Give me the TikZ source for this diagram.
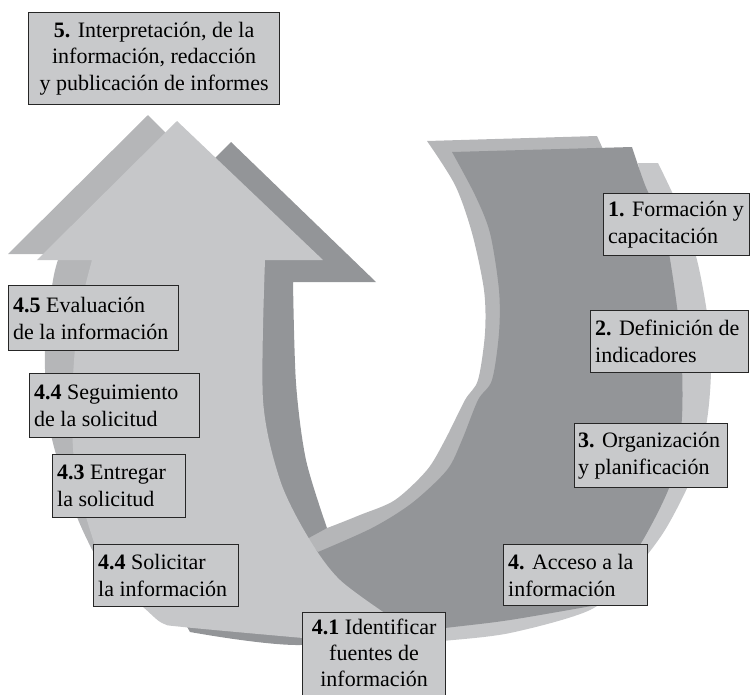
\documentclass[tikz,border=0pt]{standalone}
\usepackage{fontspec}
\setmainfont{Liberation Serif}
\definecolor{backc}{HTML}{B5B6B8}
\definecolor{darkc}{HTML}{939598}
\definecolor{lightc}{HTML}{C6C7C9}
\definecolor{boxc}{HTML}{C8C9CB}
\tikzset{
  lbox/.style={draw=black!85, line width=1.2pt, fill=boxc, inner sep=0pt, anchor=north west},
  ltext/.style={anchor=west, align=left, inner sep=0pt, font=\fontsize{22}{27}\selectfont},
  ctext/.style={anchor=center, align=center, inner sep=0pt, font=\fontsize{22}{26.5}\selectfont},
}
\begin{document}
\begin{tikzpicture}[x=1pt,y=-1pt]
\path[use as bounding box] (0,0) rectangle (750,694);
\clip (0,0) rectangle (750,694);

% back layer
\fill[backc] (148,115) -- (8,254) -- (60,254)
  -- plot[smooth] coordinates {(60,254) (53,280) (45,350) (50,430) (77,517) (110,580) (140,598) (180,615) (300,632)}
  -- plot[smooth] coordinates {(300,632) (445,615) (540,590) (600,540) (640,450) (650,350) (640,260) (615,185) (602,147)}
  -- (597,136) -- (427,141)
  -- plot[smooth] coordinates {(427,141) (455,185) (472,233) (484,290) (485,333) (478,380) (465,400) (445,440) (427,470) (395,500) (360,515) (327,528) (312,532) (300,530)}
  -- plot[smooth] coordinates {(300,530) (265,490) (238,400) (240,300) (245,261)}
  -- (294,261) -- cycle;

% right light rim
\fill[lightc] (638,163) -- (658,163)
  -- plot[smooth] coordinates {(658,163) (680,210) (697,260) (708,320) (711,370) (707,420) (695,470) (665,530) (630,575) (590,610) (510,633) (443,641) (400,645)}
  -- (400,630) -- (600,590) -- (660,450) -- (665,300) -- cycle;

% dark layer
\fill[darkc] (231,142) -- (376,282) -- (293,282)
  -- plot[smooth] coordinates {(293,282) (296,383) (306,460) (327,528)}
  -- (305,540) -- (318,552)
  -- plot[smooth] coordinates {(318,552) (372,528) (412,503) (447,470) (462,440) (478,400) (492,380) (499,333) (499,290) (490,233) (475,195) (452,152)}
  -- (632,147)
  -- plot[smooth] coordinates {(632,147) (645,185) (665,233) (680,333) (682,417) (672,480) (640,545) (597,605)}
  -- plot[smooth] coordinates {(597,605) (510,620) (445,628) (300,645) (190,632)}
  -- (150,560) -- (150,223) -- cycle;

% front light layer
\fill[lightc] (177,121) -- (323,260) -- (265,260)
  -- plot[smooth] coordinates {(265,260) (263,400) (280,480) (308,537) (340,580) (395,620)}
  -- (420,660) -- (320,660) -- (303,638)
  -- plot[smooth] coordinates {(303,638) (183,627) (162,623) (143,607) (110,580) (90,530) (75,470) (72,400) (78,320) (92,260)}
  -- (37,260) -- cycle;

% boxes
\node[lbox, minimum width=251pt, minimum height=92pt] (b5) at (28,12) {};
\node[ctext] (t5) at (b5.center) {\textbf{5.} Interpretación, de la\\información, redacción\\y publicación de informes};

\node[lbox, minimum width=146pt, minimum height=62pt] (b1) at (603,193) {};
\node[ltext] (t1) at ([xshift=5pt]b1.west) {\textbf{1.} Formación y\\capacitación};

\node[lbox, minimum width=158pt, minimum height=62pt] (b2) at (590,310) {};
\node[ltext] (t2) at ([xshift=5pt]b2.west) {\textbf{2.} Definición de\\indicadores};

\node[lbox, minimum width=153pt, minimum height=64pt] (b3) at (574,423) {};
\node[ltext] (t3) at ([xshift=4pt]b3.west) {\textbf{3.} Organización\\y planificación};

\node[lbox, minimum width=144pt, minimum height=61pt] (b4) at (503,544) {};
\node[ltext] (t4) at ([xshift=5pt]b4.west) {\textbf{4.} Acceso a la\\información};

\node[lbox, minimum width=143pt, minimum height=99pt] (b41) at (302,612) {};
\node[ctext, anchor=north, font=\fontsize{22}{26}\selectfont] (t41) at ([yshift=-7pt]b41.north) {\textbf{4.1} Identificar\\fuentes de\\información};

\node[lbox, minimum width=145pt, minimum height=62pt] (b44s) at (93,544) {};
\node[ltext] (t44s) at ([xshift=5pt]b44s.west) {\textbf{4.4} Solicitar\\la información};

\node[lbox, minimum width=133pt, minimum height=63pt] (b43) at (52,454) {};
\node[ltext] (t43) at ([xshift=5pt]b43.west) {\textbf{4.3} Entregar\\la solicitud};

\node[lbox, minimum width=170pt, minimum height=64pt] (b44) at (29,373) {};
\node[ltext] (t44) at ([xshift=5pt]b44.west) {\textbf{4.4} Seguimiento\\de la solicitud};

\node[lbox, minimum width=170pt, minimum height=65pt] (b45) at (8,285) {};
\node[ltext] (t45) at ([xshift=5pt]b45.west) {\textbf{4.5} Evaluación\\de la información};
\end{tikzpicture}
\end{document}
